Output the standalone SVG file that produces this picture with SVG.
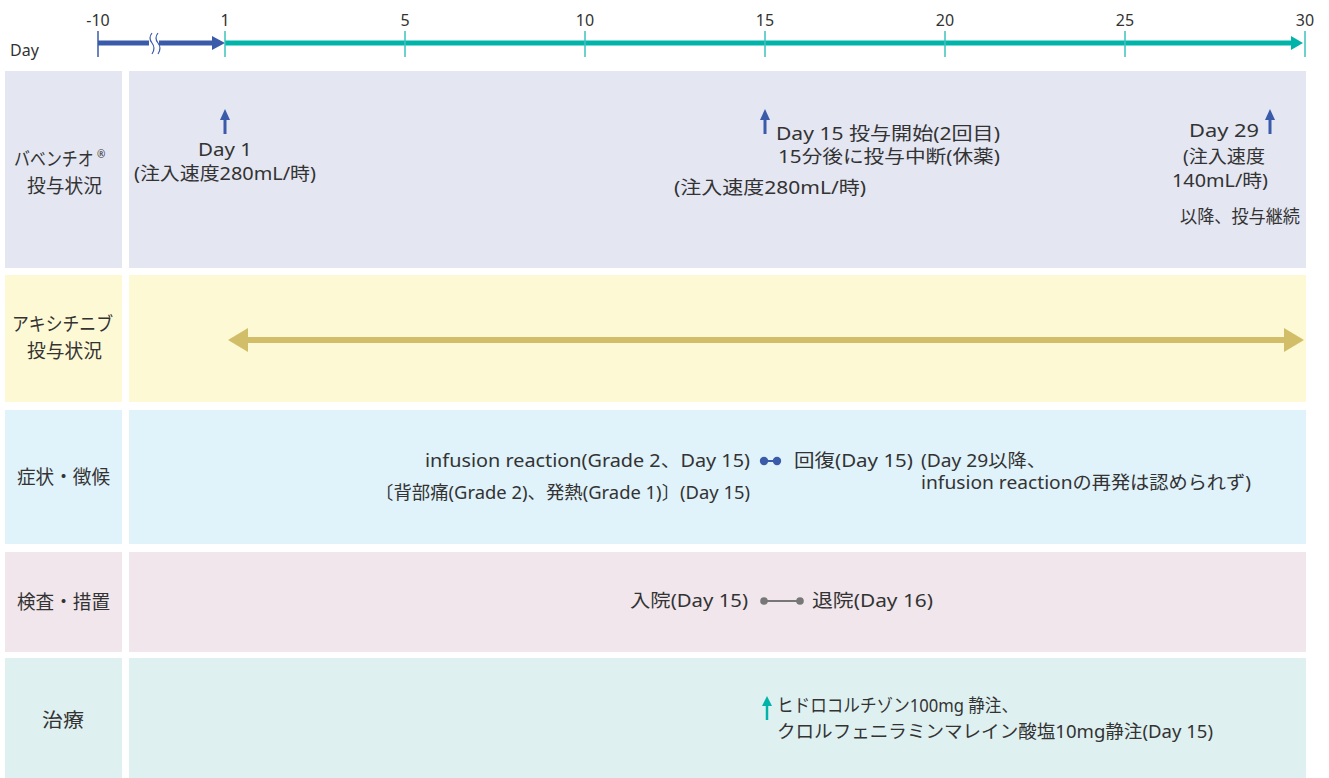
<svg xmlns="http://www.w3.org/2000/svg" width="1329" height="778" viewBox="0 0 1329 778">
<style>
text{font-family:"Noto Sans","Noto Sans CJK JP",sans-serif;fill:#333;font-size:18px}
.lbl{font-size:19px}
.tk{font-size:16px;text-anchor:middle}
.tick{stroke:#3cc3bb;stroke-width:1.5}
</style>
<rect width="1329" height="778" fill="#fff"/>
<g id="bands">
<rect x="5" y="71" width="117" height="197" fill="#E4E6F2"/>
<rect x="129" y="71" width="1177" height="197" fill="#E4E6F2"/>
<rect x="5" y="275" width="117" height="127" fill="#FEF9D5"/>
<rect x="129" y="275" width="1177" height="127" fill="#FEF9D5"/>
<rect x="5" y="410" width="117" height="134" fill="#E0F2FA"/>
<rect x="129" y="410" width="1177" height="134" fill="#E0F2FA"/>
<rect x="5" y="552" width="117" height="100" fill="#F0E6EC"/>
<rect x="129" y="552" width="1177" height="100" fill="#F0E6EC"/>
<rect x="5" y="658" width="117" height="120" fill="#DFF0F1"/>
<rect x="129" y="658" width="1177" height="120" fill="#DFF0F1"/>
</g>
<g id="timeline">
<text x="10" y="56" style="font-size:16px">Day</text>
<line x1="98" y1="31" x2="98" y2="57" stroke="#3A5BA9" stroke-width="1.5"/>
<line x1="98" y1="43" x2="214" y2="43" stroke="#3A5BA9" stroke-width="5"/>
<polygon points="212,36 225,43 212,50" fill="#3A5BA9"/>
<rect x="149" y="36" width="10" height="14" fill="#fff"/>
<path d="M152,33 q-4,5 0,10 q4,5 0,11" fill="none" stroke="#3A5BA9" stroke-width="1.2"/>
<path d="M158,33 q-4,5 0,10 q4,5 0,11" fill="none" stroke="#3A5BA9" stroke-width="1.2"/>
<line x1="225" y1="43" x2="1294" y2="43" stroke="#00B4AA" stroke-width="5"/>
<polygon points="1291,36 1303,43 1291,50" fill="#00B4AA"/>
<line class="tick" x1="225" y1="31" x2="225" y2="57"/>
<line class="tick" x1="405" y1="31" x2="405" y2="57"/>
<line class="tick" x1="585" y1="31" x2="585" y2="57"/>
<line class="tick" x1="765" y1="31" x2="765" y2="57"/>
<line class="tick" x1="945" y1="31" x2="945" y2="57"/>
<line class="tick" x1="1125" y1="31" x2="1125" y2="57"/>
<line class="tick" x1="1305" y1="31" x2="1305" y2="57"/>
<text class="tk" x="98" y="26">-10</text>
<text class="tk" x="225" y="26">1</text>
<text class="tk" x="405" y="26">5</text>
<text class="tk" x="585" y="26">10</text>
<text class="tk" x="765" y="26">15</text>
<text class="tk" x="945" y="26">20</text>
<text class="tk" x="1125" y="26">25</text>
<text class="tk" x="1305" y="26">30</text>
</g>
<g id="row-bavencio">
<text class="lbl" transform="translate(14,166) scale(0.84,1)">バベンチオ</text>
<text x="97" y="158" style="font-size:10px">®</text>
<text class="lbl" x="27" y="193" textLength="75" lengthAdjust="spacingAndGlyphs">投与状況</text>
<line x1="225" y1="134" x2="225" y2="118" stroke="#3A5BA9" stroke-width="3"/>
<polygon points="220,120 225,109 230,120" fill="#3A5BA9"/>
<text x="198" y="156" textLength="54" lengthAdjust="spacingAndGlyphs">Day 1</text>
<text x="134" y="180" textLength="182" lengthAdjust="spacingAndGlyphs">(注入速度280mL/時)</text>
<line x1="765" y1="134" x2="765" y2="118" stroke="#3A5BA9" stroke-width="3"/>
<polygon points="760,120 765,109 770,120" fill="#3A5BA9"/>
<text x="776" y="140" textLength="224" lengthAdjust="spacingAndGlyphs">Day 15 投与開始(2回目)</text>
<text x="778" y="163" textLength="222" lengthAdjust="spacingAndGlyphs">15分後に投与中断(休薬)</text>
<text x="674" y="194" textLength="192" lengthAdjust="spacingAndGlyphs">(注入速度280mL/時)</text>
<line x1="1270" y1="134" x2="1270" y2="118" stroke="#3A5BA9" stroke-width="3"/>
<polygon points="1265,120 1270,109 1275,120" fill="#3A5BA9"/>
<text x="1189" y="137" textLength="70" lengthAdjust="spacingAndGlyphs">Day 29</text>
<text x="1183" y="163" textLength="82" lengthAdjust="spacingAndGlyphs">(注入速度</text>
<text x="1172" y="187" textLength="96" lengthAdjust="spacingAndGlyphs">140mL/時)</text>
<text x="1180" y="223" textLength="120" lengthAdjust="spacingAndGlyphs">以降、投与継続</text>
</g>
<g id="row-axitinib">
<text class="lbl" x="12" y="331" textLength="101" lengthAdjust="spacingAndGlyphs">アキシチニブ</text>
<text class="lbl" x="27" y="358" textLength="75" lengthAdjust="spacingAndGlyphs">投与状況</text>
</g>
<g id="row-symptoms">
<text class="lbl" x="17" y="484" textLength="93" lengthAdjust="spacingAndGlyphs">症状・徴候</text>
<text x="425" y="467" textLength="325" lengthAdjust="spacingAndGlyphs">infusion reaction(Grade 2、Day 15)</text>
<text x="375" y="499" textLength="375" lengthAdjust="spacingAndGlyphs">〔背部痛(Grade 2)、発熱(Grade 1)〕(Day 15)</text>
<text x="794" y="467" textLength="119" lengthAdjust="spacingAndGlyphs">回復(Day 15)</text>
<text x="921" y="467" textLength="125" lengthAdjust="spacingAndGlyphs">(Day 29以降、</text>
<text x="921" y="489" textLength="330" lengthAdjust="spacingAndGlyphs">infusion reactionの再発は認められず)</text>
</g>
<g id="row-exam">
<text class="lbl" x="17" y="609" textLength="93" lengthAdjust="spacingAndGlyphs">検査・措置</text>
<text x="630" y="607" textLength="118" lengthAdjust="spacingAndGlyphs">入院(Day 15)</text>
<text x="812" y="607" textLength="121" lengthAdjust="spacingAndGlyphs">退院(Day 16)</text>
</g>
<g id="row-treatment">
<text class="lbl" x="42" y="727" textLength="42" lengthAdjust="spacingAndGlyphs">治療</text>
<text x="777" y="712" textLength="241" lengthAdjust="spacingAndGlyphs">ヒドロコルチゾン100mg 静注、</text>
<text x="777" y="738" textLength="436" lengthAdjust="spacingAndGlyphs">クロルフェニラミンマレイン酸塩10mg静注(Day 15)</text>
</g>
<g id="connectors">
<line x1="242" y1="340" x2="1290" y2="340" stroke="#D2BE68" stroke-width="6"/>
<polygon points="228,340 248,328 248,352" fill="#D2BE68"/>
<polygon points="1304,340 1284,328 1284,352" fill="#D2BE68"/>
<line x1="764" y1="461" x2="777" y2="461" stroke="#3A5BA9" stroke-width="2"/>
<circle cx="764" cy="461" r="4.2" fill="#3A5BA9"/>
<circle cx="777" cy="461" r="4.2" fill="#3A5BA9"/>
<line x1="764" y1="601" x2="800" y2="601" stroke="#777" stroke-width="2"/>
<circle cx="764" cy="601" r="3.8" fill="#777"/>
<circle cx="800" cy="601" r="3.8" fill="#777"/>
<line x1="767" y1="720" x2="767" y2="704" stroke="#00B4AA" stroke-width="2.5"/>
<polygon points="762,706 767,696 772,706" fill="#00B4AA"/>
</g>
</svg>
